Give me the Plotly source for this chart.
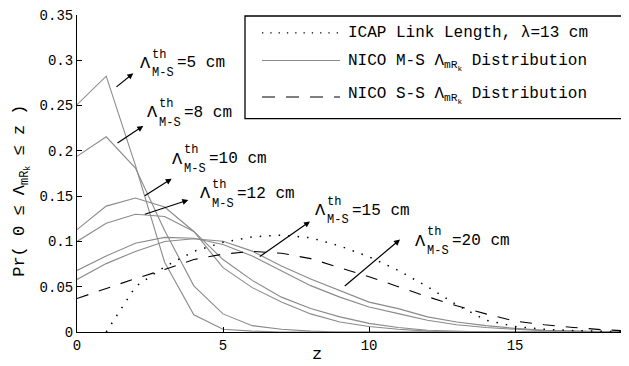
import plotly.graph_objects as go

# ---------------- data ----------------
z = list(range(20))
thresholds_cm = ["5", "8", "10", "12", "15", "20"]

ms_5cm = [0.251, 0.2825, 0.184, 0.077, 0.019, 0.003, 0.001, 0, 0, 0, 0, 0, 0, 0, 0, 0, 0, 0, 0, 0]
ms_8cm = [0.194, 0.2155, 0.181, 0.112, 0.051, 0.020, 0.007, 0.003, 0.001, 0, 0, 0, 0, 0, 0, 0, 0, 0, 0, 0]
ms_10cm = [0.113, 0.139, 0.148, 0.138, 0.111, 0.071, 0.049, 0.033, 0.020, 0.011, 0.006, 0.003, 0.001,
           0, 0, 0, 0, 0, 0, 0]
ms_12cm = [0.100, 0.120, 0.130, 0.1275, 0.111, 0.080, 0.057, 0.0385, 0.026, 0.0167, 0.0095, 0.005, 0.002,
           0.001, 0, 0, 0, 0, 0, 0]
ms_15cm = [0.068, 0.084, 0.098, 0.1045, 0.1035, 0.0966, 0.0839, 0.0675, 0.0512, 0.0385, 0.0276, 0.0203,
           0.013, 0.008, 0.005, 0.003, 0.0015, 0.001, 0, 0]
ms_20cm = [0.058, 0.0755, 0.089, 0.100, 0.103, 0.1002, 0.0893, 0.073, 0.0585, 0.0458, 0.033, 0.0258,
           0.0167, 0.011, 0.007, 0.004, 0.002, 0.001, 0.0005, 0]
ss_dist = [0.037, 0.048, 0.059, 0.069, 0.080, 0.086, 0.089, 0.087, 0.081, 0.071, 0.061, 0.050, 0.039,
           0.029, 0.020, 0.012, 0.008, 0.005, 0.0025, 0.001]
icap_link = [None, 0.0, 0.050, 0.072, 0.089, 0.099, 0.105, 0.107, 0.104, 0.095, 0.083, 0.068, 0.050,
             0.030, 0.013, 0.006, 0.003, 0.0015, 0.0005, 0]

ytick_vals = [0, 0.05, 0.1, 0.15, 0.2, 0.25, 0.3, 0.35]
ytick_text = ["0", "0.05", "0.1", "0.15", "0.2", "0.25", "0.3", "0.35"]
xtick_vals = [0, 5, 10, 15]

# ---------------- geometry helpers (screen pixel -> axis / paper) ----------------
OFF = 8                      # page body margin
SW, SH = 629, 366            # screen size
PL, PR, PT, PB = 77, 629, 11, 332   # plot area on screen
XMAX, YMAX = 18.9, 0.35


def X(px):
    return (px - PL) / (PR - PL) * XMAX


def Y(py):
    return (PB - py) / (PB - PT) * YMAX


def PX(px):
    return (px - PL) / (PR - PL)


def PY(py):
    return (PB - py) / (PB - PT)


FONT = "Liberation Mono, DejaVu Sans Mono, monospace"
GRAY = "#8a8a8a"

fig = go.Figure()
for s in [ms_5cm, ms_8cm, ms_10cm, ms_12cm, ms_15cm, ms_20cm]:
    fig.add_trace(go.Scatter(x=z, y=s, mode="lines", line=dict(color=GRAY, width=1.1),
                             showlegend=False, hoverinfo="skip"))
fig.add_trace(go.Scatter(x=z, y=ss_dist, mode="lines",
                         line=dict(color="black", width=1.1, dash="12px,11px"),
                         showlegend=False, hoverinfo="skip"))
fig.add_trace(go.Scatter(x=z, y=icap_link, mode="lines",
                         line=dict(color="black", width=1.5, dash="1.5px,8px"),
                         showlegend=False, hoverinfo="skip"))

annotations = []
shapes = []

# threshold labels with arrows
label_pos = [(138, 60), (145, 110), (170, 157), (198, 192), (313, 209), (413, 240)]
arrow_pos = [((115, 85), (133.3, 70)), ((116, 141.7), (143.3, 123.3)), ((143.3, 195), (171.7, 176.7)),
             ((143.3, 213.3), (188.3, 198.3)), ((258.3, 256.7), (310, 220)), ((343.3, 286.7), (400, 238.3))]
for th, (lx, ly), ((tx, ty), (hx, hy)) in zip(thresholds_cm, label_pos, arrow_pos):
    annotations.append(dict(x=X(hx), y=Y(hy), ax=X(tx), ay=Y(ty), xref="x", yref="y", axref="x", ayref="y",
                            text="", showarrow=True, arrowhead=2, arrowsize=1, arrowwidth=1.2,
                            arrowcolor="black"))
    annotations.append(dict(x=X(lx), y=Y(ly), xref="x", yref="y", text="Λ", showarrow=False,
                            xanchor="left", yanchor="middle", font=dict(size=17)))
    annotations.append(dict(x=X(lx + 12), y=Y(ly - 9), xref="x", yref="y", text="th", showarrow=False,
                            xanchor="left", yanchor="middle", font=dict(size=12)))
    annotations.append(dict(x=X(lx + 12), y=Y(ly + 10), xref="x", yref="y", text="M-S", showarrow=False,
                            xanchor="left", yanchor="middle", font=dict(size=12)))
    annotations.append(dict(x=X(lx + 37), y=Y(ly), xref="x", yref="y", text="=" + th + " cm",
                            showarrow=False, xanchor="left", yanchor="middle", font=dict(size=16)))

# legend (drawn manually)
shapes.append(dict(type="rect", xref="paper", yref="paper", x0=PX(245), x1=PX(720), y0=PY(116), y1=PY(12),
                   line=dict(color="black", width=1.3), fillcolor="white", layer="above"))
shapes.append(dict(type="line", xref="paper", yref="paper", x0=PX(262), x1=PX(340), y0=PY(29), y1=PY(29),
                   line=dict(color="black", width=1.3, dash="1.3px,7px")))
shapes.append(dict(type="line", xref="paper", yref="paper", x0=PX(262), x1=PX(340), y0=PY(57), y1=PY(57),
                   line=dict(color=GRAY, width=1.1)))
shapes.append(dict(type="line", xref="paper", yref="paper", x0=PX(262), x1=PX(340), y0=PY(94), y1=PY(94),
                   line=dict(color="black", width=1.1, dash="13px,11px")))
legend_text = ["ICAP Link Length, λ=13 cm",
               "NICO M-S Λ<sub>mR<sub>k</sub></sub> Distribution",
               "NICO S-S Λ<sub>mR<sub>k</sub></sub> Distribution"]
for t, ty in zip(legend_text, [29, 59, 93]):
    annotations.append(dict(x=PX(346), y=PY(ty), xref="paper", yref="paper", text=t, showarrow=False,
                            xanchor="left", yanchor="middle", font=dict(size=16)))

# axis titles
annotations.append(dict(x=PX(317), y=PY(355), xref="paper", yref="paper", text="z", showarrow=False,
                        xanchor="center", yanchor="middle", font=dict(size=17)))
annotations.append(dict(x=PX(22), y=PY(189), xref="paper", yref="paper",
                        text="Pr( 0 ≤ Λ<sub>mR<sub>k</sub></sub> ≤ z )", textangle=-90,
                        showarrow=False, xanchor="center", yanchor="middle", font=dict(size=17)))

W, H = SW - OFF, SH - OFF
fig.update_layout(
    width=W, height=H,
    margin=dict(l=PL - OFF, r=W - (PR - OFF), t=PT - OFF, b=H - (PB - OFF)),
    plot_bgcolor="white", paper_bgcolor="white",
    showlegend=False,
    font=dict(family=FONT, color="black"),
    annotations=annotations, shapes=shapes,
)
fig.update_xaxes(range=[0, XMAX], tickvals=xtick_vals, ticks="inside", ticklen=5, tickcolor="black",
                 showline=True, linecolor="black", linewidth=1, showgrid=False, zeroline=False,
                 tickfont=dict(size=14), ticklabeloverflow="allow")
fig.update_yaxes(range=[0, YMAX], tickvals=ytick_vals, ticktext=ytick_text, ticks="inside", ticklen=5,
                 tickcolor="black", showline=True, linecolor="black", linewidth=1, showgrid=False,
                 zeroline=False, tickfont=dict(size=14), ticklabeloverflow="allow")

fig.write_html("out.html")
